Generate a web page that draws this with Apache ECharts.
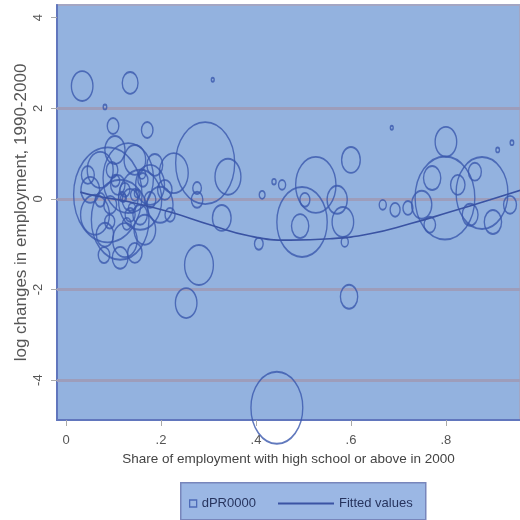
<!DOCTYPE html>
<html>
<head>
<meta charset="utf-8">
<script src="https://cdn.jsdelivr.net/npm/echarts@6/dist/echarts.min.js"></script>
<style>
  html, body { margin: 0; padding: 0; background: #fff; }
  #chart { width: 520px; height: 520px; }
</style>
</head>
<body>
<div id="chart"></div>
<script>
// share of employment with high school or above (x), log change in employment (y), weight
const shareHS = [
  0.088, 0.131, 0.114, 0.156, 0.072, 0.061, 0.177, 0.198, 0.103, 0.145,
  0.051, 0.124, 0.166, 0.082, 0.135, 0.109, 0.156, 0.093, 0.177, 0.124,
  0.145, 0.072, 0.208, 0.219, 0.046, 0.187, 0.097, 0.135, 0.162, 0.114,
  0.145, 0.080, 0.034, 0.135, 0.309, 0.082, 0.099, 0.171, 0.293, 0.341,
  0.227, 0.276, 0.276, 0.328, 0.280, 0.253, 0.444, 0.406, 0.438, 0.526,
  0.497, 0.493, 0.600, 0.571, 0.583, 0.587, 0.596, 0.693, 0.686, 0.800,
  0.798, 0.876, 0.771, 0.749, 0.899, 0.960, 0.720, 0.909, 0.939, 0.455,
  0.413, 0.851, 0.825, 0.861, 0.935, 0.766, 0.667, 0.503, 0.118, 0.150,
  0.104, 0.139, 0.128, 0.160, 0.092, 0.121
]
const dPR = [
  0.09, 0.46, -0.46, -0.02, 0.64, -0.35, 0.31, -0.13, 1.08, 0.86,
  0.20, -0.91, -0.68, -0.79, -0.02, 0.31, -0.35, -0.13, -0.02, 0.20,
  0.09, -0.02, 0.20, -0.35, 0.53, 0.75, 0.64, -0.35, 0.42, -1.30,
  -1.19, -1.24, 2.49, 2.56, 2.63, 2.03, 1.61, 1.52, 0.79, 0.49,
  0.57, -0.02, 0.24, -0.42, -1.46, -2.30, -4.61, -0.99, 0.38, 0.31,
  -0.51, -0.60, 0.86, -0.02, -0.51, -0.95, -2.16, -0.24, 1.57, 1.26,
  0.02, 0.13, 0.46, -0.13, -0.51, 0.31, -0.20, 1.08, 1.24, 0.31,
  0.09, -0.35, 0.31, 0.60, -0.13, -0.57, -0.13, -0.02, 0.05, 0.12,
  0.40, -0.20, -0.55, 0.55, -0.50, 0.02
]
const weight = [
  564, 306, 400, 225, 81, 100, 100, 81, 49, 56,
  42, 72, 56, 36, 30, 25, 25, 20, 16, 12,
  9, 12, 25, 12, 20, 30, 16, 12, 12, 30,
  25, 16, 56, 30, 1, 1.5, 16, 16, 420, 81,
  100, 16, 9, 42, 100, 56, 324, 9, 2, 196,
  306, 36, 42, 49, 56, 6, 36, 12, 1, 56,
  430, 324, 36, 49, 36, 156, 12, 1.5, 1.5, 6,
  4, 30, 25, 20, 20, 16, 6, 12, 6, 4,
  9, 6, 9, 6, 12, 4
]

// fitted values
const fitX = [0.03, 0.061, 0.135, 0.219, 0.303, 0.387, 0.472, 0.556, 0.64, 0.724, 0.808, 0.893, 0.96]
const fitY = [0.15, 0.07, -0.07, -0.29, -0.57, -0.82, -0.91, -0.88, -0.77, -0.55, -0.29, -0.02, 0.2]

const xTicks = [0, 0.2, 0.4, 0.6, 0.8]
const yTicks = [-4, -2, 0, 2, 4]
const yGrid = [-4, -2, 0, 2]

const font = "'Liberation Sans', Arial, sans-serif"
const bubbleColor = '#3a58ad'
const fitColor = '#3a53a3'

const chart = echarts.init(document.getElementById('chart'), null, { renderer: 'canvas' })

chart.setOption({
  animation: false,
  backgroundColor: '#fff',
  textStyle: { fontFamily: font },
  grid: {
    left: 57, right: 0, top: 5, bottom: 100,
    show: true,
    backgroundColor: '#93b2df',
    borderColor: '#a4a6c3',
    borderWidth: 2
  },
  xAxis: {
    type: 'value',
    min: -0.019,
    max: 0.956,
    name: 'Share of employment with high school or above in 2000',
    nameLocation: 'middle',
    nameGap: 31,
    nameTextStyle: { fontSize: 13.5, color: '#444', fontFamily: font },
    axisLine: { onZero: false, lineStyle: { color: '#6176bd', width: 2 } },
    axisTick: { show: true, length: 6, customValues: xTicks, lineStyle: { color: '#aaa' } },
    axisLabel: {
      customValues: xTicks,
      margin: 14, fontSize: 13, color: '#555',
      formatter: v => (v === 0 ? '0' : String(v).replace(/^0/, ''))
    },
    splitLine: { show: false }
  },
  yAxis: {
    type: 'value',
    min: -4.88,
    max: 4.28,
    name: 'log changes in employment, 1990-2000',
    nameLocation: 'middle',
    nameRotate: 90,
    nameGap: 27,
    nameMoveOverlap: false,
    nameTextStyle: { fontSize: 17, color: '#555', fontFamily: font },
    axisLine: { onZero: false, lineStyle: { color: '#6176bd', width: 2 } },
    axisTick: { show: true, length: 6, customValues: yTicks, lineStyle: { color: '#aaa' } },
    axisLabel: {
      customValues: yTicks,
      rotate: 90, margin: 12, fontSize: 13, color: '#555'
    },
    splitLine: { show: false }
  },
  legend: [
    {
      left: 184, top: 492,
      itemWidth: 7, itemHeight: 7, itemGap: 10,
      textStyle: { fontSize: 13, color: '#27345e', fontFamily: font },
      data: [{ name: 'dPR0000', icon: 'rect',
        itemStyle: { color: 'transparent', borderColor: bubbleColor, borderWidth: 1.3 } }]
    },
    {
      left: 273, top: 492,
      itemWidth: 56, itemHeight: 2,
      textStyle: { fontSize: 13, color: '#27345e', fontFamily: font },
      data: [{ name: 'Fitted values', icon: 'rect', itemStyle: { color: fitColor } }]
    }
  ],
  graphic: [{
    type: 'rect', left: 180, top: 482, z: -1,
    shape: { width: 245, height: 37 },
    style: { fill: '#9bb7e4', stroke: '#7886bb', lineWidth: 1.5 }
  }],
  series: [
    {
      name: 'dPR0000',
      type: 'scatter',
      z: 3,
      symbol: 'circle',
      symbolSize: v => {
        const h = 4 * Math.sqrt(v[2])
        return [h * 0.72, h]
      },
      itemStyle: { color: 'transparent', borderColor: bubbleColor, borderWidth: 1.6 },
      data: shareHS.map((x, i) => [x, dPR[i], weight[i]])
    },
    {
      name: 'Fitted values',
      type: 'line',
      z: 4,
      smooth: true,
      symbol: 'none',
      lineStyle: { color: fitColor, width: 1.6 },
      itemStyle: { color: fitColor },
      data: fitX.map((x, i) => [x, fitY[i]]),
      markLine: {
        silent: true,
        symbol: 'none',
        z: 2,
        label: { show: false },
        lineStyle: { color: '#9d9dbb', width: 3, type: 'solid' },
        data: yGrid.map(v => ({ yAxis: v }))
      }
    }
  ]
})
</script>
</body>
</html>
